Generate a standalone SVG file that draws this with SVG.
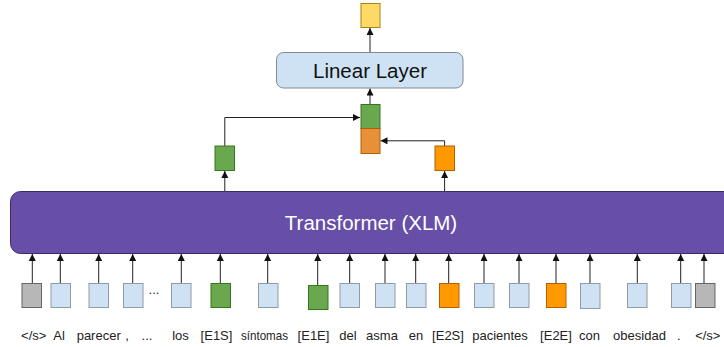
<svg xmlns="http://www.w3.org/2000/svg" width="724" height="347" viewBox="0 0 724 347">
<style>
.tok{stroke-width:1}
.blue{fill:#cfe2f3;stroke:#8f9ba6}
.gray{fill:#b7b7b7;stroke:#666666}
.green{fill:#6aa84f;stroke:#38761d}
.orange{fill:#ff9900;stroke:#b45f06}
.orange2{fill:#e69138;stroke:#b45f06}
.yellow{fill:#ffd966;stroke:#a88410}
.conn{fill:none;stroke:#222;stroke-width:1;marker-end:url(#ah)}
.lbl{font-family:"Liberation Sans",Arial,sans-serif;font-size:13px;fill:#222;text-anchor:middle}
</style>
<defs>
<marker id="ah" markerUnits="userSpaceOnUse" markerWidth="8" markerHeight="8" refX="7" refY="3.5" orient="auto">
<path d="M0,0 L7,3.5 L0,7 z" fill="#111"/>
</marker>
</defs>

<g id="connectors">
<path class="conn" d="M370,52.5 V28"/>
<path class="conn" d="M370,104 V88.5"/>
<path class="conn" d="M224.8,146 V117.5 H360"/>
<path class="conn" d="M444.6,146 V140.8 H380.5"/>
<path class="conn" d="M224.8,191.5 V171"/>
<path class="conn" d="M444.6,191.5 V171"/>
<path class="conn" d="M32.3,283 V254"/>
<path class="conn" d="M60.3,283 V254"/>
<path class="conn" d="M98.7,283 V254"/>
<path class="conn" d="M132.7,283 V254"/>
<path class="conn" d="M181.3,283 V254"/>
<path class="conn" d="M220.3,283 V254"/>
<path class="conn" d="M267.7,283 V254"/>
<path class="conn" d="M317.7,285 V254"/>
<path class="conn" d="M349.7,283 V254"/>
<path class="conn" d="M385,283 V254"/>
<path class="conn" d="M415.7,283 V254"/>
<path class="conn" d="M448.7,283 V254"/>
<path class="conn" d="M484,283 V254"/>
<path class="conn" d="M519,283 V254"/>
<path class="conn" d="M556,283 V254"/>
<path class="conn" d="M590,283 V254"/>
<path class="conn" d="M637.3,283 V254"/>
<path class="conn" d="M680.7,283 V254"/>
<path class="conn" d="M704,283 V254"/>
</g>

<g id="output"><rect class="yellow" x="361" y="3.5" width="19" height="24"/></g>

<g id="linear-layer">
<rect x="276.5" y="52.5" width="186.5" height="35.5" rx="7" fill="#cfe2f3" stroke="#7f8a94"/>
<text x="370" y="78" font-family="'Liberation Sans',Arial,sans-serif" font-size="20.5" fill="#111" text-anchor="middle">Linear Layer</text>
</g>

<g id="concat">
<rect class="green" x="361" y="104.5" width="19" height="24"/>
<rect class="orange2" x="361" y="128.5" width="19" height="25"/>
</g>

<g id="e1-repr"><rect class="green" x="215" y="146" width="19.5" height="24.5"/></g>
<g id="e2-repr"><rect class="orange" x="435" y="146" width="19.5" height="24.5"/></g>

<g id="transformer">
<rect x="10.5" y="191.5" width="730" height="62" rx="10" fill="#674ea7" stroke="#3b2a6b"/>
<text x="371" y="230" font-family="'Liberation Sans',Arial,sans-serif" font-size="20.5" fill="#ffffff" text-anchor="middle">Transformer (XLM)</text>
</g>

<g id="tokens">
<g id="t0"><rect class="gray" x="22" y="283.5" width="19.5" height="24"/><text class="lbl" x="33.7" y="339.5">&lt;/s&gt;</text></g>
<g id="t1"><rect class="blue" x="51" y="283.5" width="19.5" height="24"/><text class="lbl" x="59" y="339.5">Al</text></g>
<g id="t2"><rect class="blue" x="89" y="283.5" width="19.5" height="24"/><text class="lbl" x="98.7" y="339.5">parecer</text></g>
<g id="t3"><rect class="blue" x="123.5" y="283.5" width="19.5" height="24"/><text class="lbl" x="127" y="339.5">,</text></g>
<g id="dots"><text class="lbl" x="154" y="294" font-size="11">...</text><text class="lbl" x="147" y="339.5">...</text></g>
<g id="t4"><rect class="blue" x="171.5" y="283.5" width="19.5" height="24"/><text class="lbl" x="180.5" y="339.5">los</text></g>
<g id="t5"><rect class="green" x="211" y="283.5" width="19.5" height="24"/><text class="lbl" x="216.5" y="339.5">[E1S]</text></g>
<g id="t6"><rect class="blue" x="258.5" y="283.5" width="19.5" height="24"/><text class="lbl" x="264.5" y="339.5" textLength="47" lengthAdjust="spacingAndGlyphs">síntomas</text></g>
<g id="t7"><rect class="green" x="308.5" y="285.5" width="19.5" height="24"/><text class="lbl" x="313.5" y="339.5">[E1E]</text></g>
<g id="t8"><rect class="blue" x="340" y="283.5" width="19.5" height="24"/><text class="lbl" x="348" y="339.5">del</text></g>
<g id="t9"><rect class="blue" x="375.5" y="283.5" width="19.5" height="24"/><text class="lbl" x="382" y="339.5">asma</text></g>
<g id="t10"><rect class="blue" x="406.5" y="283.5" width="19.5" height="24"/><text class="lbl" x="416" y="339.5">en</text></g>
<g id="t11"><rect class="orange" x="439.5" y="283.5" width="19.5" height="24"/><text class="lbl" x="448" y="339.5">[E2S]</text></g>
<g id="t12"><rect class="blue" x="474.5" y="283.5" width="19.5" height="24"/><text class="lbl" x="500" y="339.5">pacientes</text></g>
<g id="t13"><rect class="blue" x="509.5" y="283.5" width="19.5" height="24"/></g>
<g id="t14"><rect class="orange" x="546.5" y="283.5" width="19.5" height="24"/><text class="lbl" x="556" y="339.5">[E2E]</text></g>
<g id="t15"><rect class="blue" x="580.5" y="283.5" width="19.5" height="25"/><text class="lbl" x="589.5" y="339.5">con</text></g>
<g id="t16"><rect class="blue" x="627.5" y="283.5" width="19.5" height="24"/><text class="lbl" x="639.5" y="339.5">obesidad</text></g>
<g id="t17"><rect class="blue" x="671.5" y="283.5" width="19.5" height="24"/><text class="lbl" x="678.7" y="339.5">.</text></g>
<g id="t18"><rect class="gray" x="695.5" y="283.5" width="19.5" height="24"/><text class="lbl" x="707.8" y="339.5">&lt;/s&gt;</text></g>
</g>
</svg>
